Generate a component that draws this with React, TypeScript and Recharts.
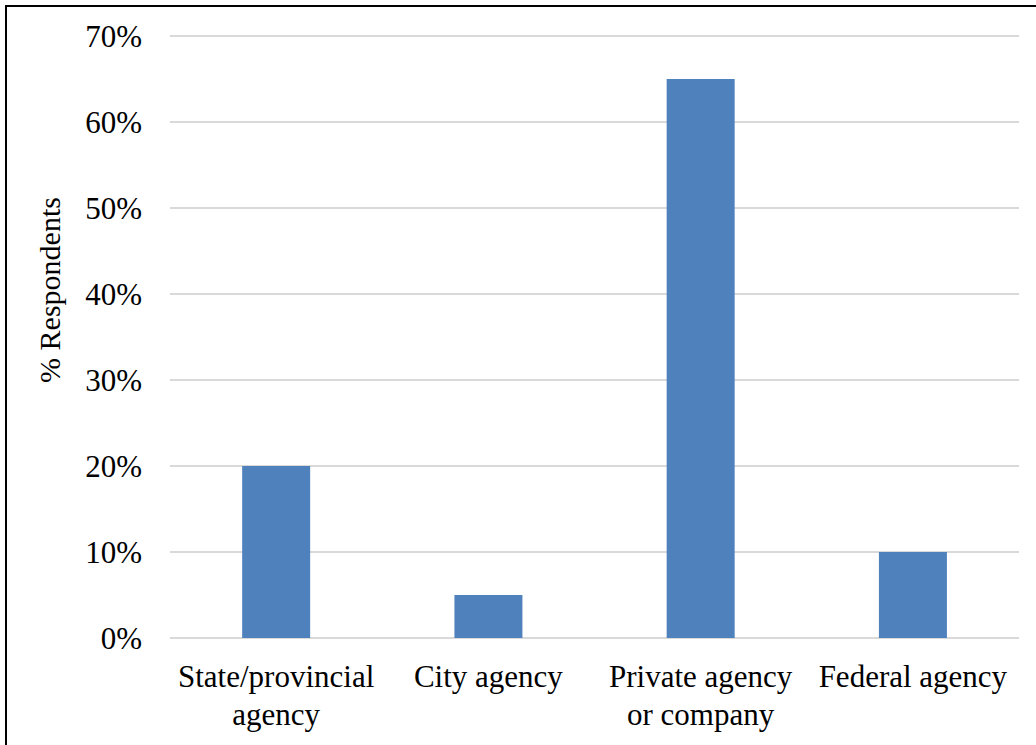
import { BarChart, Bar, XAxis, YAxis, CartesianGrid } from 'recharts'

const categories = ['State/provincial\nagency', 'City agency', 'Private agency\nor company', 'Federal agency']
const respondents = [0.2, 0.05, 0.65, 0.1]
const yTicks = [0, 0.1, 0.2, 0.3, 0.4, 0.5, 0.6, 0.7]

const data = categories.map((name, i) => ({ name, value: respondents[i] }))

const FONT = '"Liberation Serif", "Times New Roman", serif'

const CategoryTick = ({ x, y, payload }: any) => {
  const lines = String(payload.value).split('\n')
  return (
    <text x={x} y={y} textAnchor="middle" fill="#000" fontSize={31} fontFamily={FONT}>
      {lines.map((line, i) => (
        <tspan key={i} x={x} dy={i === 0 ? 21 : 37.5}>{line}</tspan>
      ))}
    </text>
  )
}

const AxisTitle = () => (
  <text x={60} y={290} transform="rotate(-90, 60, 290)" textAnchor="middle"
    fill="#000" fontSize={30} fontFamily={FONT}>
    % Respondents
  </text>
)

export default function App() {
  return (
    <div style={{ position: 'fixed', left: 0, top: 0, width: 1036, height: 745, background: '#fff' }}>
      <div style={{
        position: 'absolute', left: 5, top: 5, width: 1031, height: 740,
        borderLeft: '2px solid #000', borderTop: '2px solid #000', boxSizing: 'border-box'
      }} />
      <BarChart width={1036} height={745} data={data}
        margin={{ top: 36, right: 17, bottom: 27, left: 0 }} barCategoryGap="34%">
        <CartesianGrid vertical={false} stroke="#d9d9d9" strokeWidth={2} />
        <XAxis dataKey="name" height={80} axisLine={false} tickLine={false} tickSize={0}
          tickMargin={28} tick={<CategoryTick />} interval={0} />
        <YAxis width={170} domain={[0, 0.7]} ticks={yTicks} axisLine={false} tickLine={false}
          tickSize={0} tickMargin={28} tickFormatter={v => `${Math.round(v * 100)}%`}
          tick={{ fill: '#000', fontSize: 31, fontFamily: FONT }}
          label={<AxisTitle />} />
        <Bar dataKey="value" fill="#4f81bd" isAnimationActive={false} />
      </BarChart>
    </div>
  )
}
